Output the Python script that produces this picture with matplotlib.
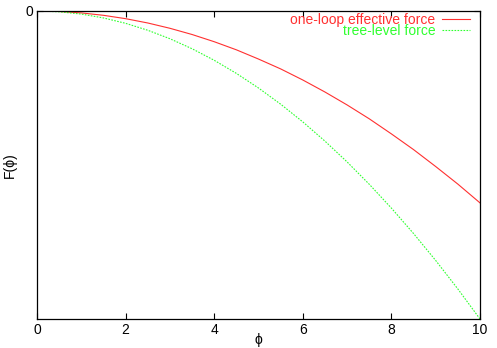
import matplotlib
matplotlib.use("Agg")
import matplotlib.pyplot as plt

# values (arbitrary units, y axis only labelled at 0)
phi = [0, 0.5, 1, 1.5, 2, 2.5, 3, 3.5, 4, 4.5, 5, 5.5, 6, 6.5, 7, 7.5, 8, 8.5, 9, 9.5, 10]
one_loop = [0, -0.16, -0.62, -1.4, -2.49, -3.89, -5.61, -7.63, -9.97, -12.6, -15.6,
            -18.8, -22.4, -26.3, -30.5, -35.0, -39.9, -45.0, -50.5, -56.2, -62.3]
tree = [0, -0.25, -1, -2.25, -4, -6.25, -9, -12.25, -16, -20.25, -25,
        -30.25, -36, -42.25, -49, -56.25, -64, -72.25, -81, -90.25, -100]

plt.rcParams['font.family'] = ['Liberation Sans', 'DejaVu Sans']

fig = plt.figure(figsize=(4.97, 3.48), dpi=100)
ax = fig.add_axes([37 / 497, 1 - 319 / 348, 443 / 497, 308 / 348])

ax.plot(phi, one_loop, color='#ff3030', lw=0.8, label='one-loop effective force')
ax.plot(phi, tree, color='#30ff30', lw=0.8, dashes=(1.5, 1.2), label='tree-level force')

ax.set_xlim(0, 10)
ax.set_ylim(-100, 0)
ax.set_xticks([0, 2, 4, 6, 8, 10])
ax.set_yticks([0])
ax.tick_params(direction='in', top=True, right=True, labelsize=10, length=4, width=0.8, pad=3)
for s in ax.spines.values():
    s.set_linewidth(0.9)

ax.set_xlabel('ϕ', fontsize=10, va='center')
ax.xaxis.set_label_coords(0.5, (319 - 340) / 308)
ax.set_ylabel('F(ϕ)', fontsize=10, va='center')
ax.yaxis.set_label_coords((10 - 37) / 443, 0.5)

ax.legend(loc='upper right', bbox_to_anchor=(470 / 497, 1 - 13 / 348),
          bbox_transform=fig.transFigure, frameon=False, markerfirst=False,
          labelcolor='linecolor', fontsize=10, handlelength=2.0, handletextpad=0.5,
          labelspacing=-0.22, borderaxespad=0, borderpad=0)

fig.savefig('out.png', dpi=100)
